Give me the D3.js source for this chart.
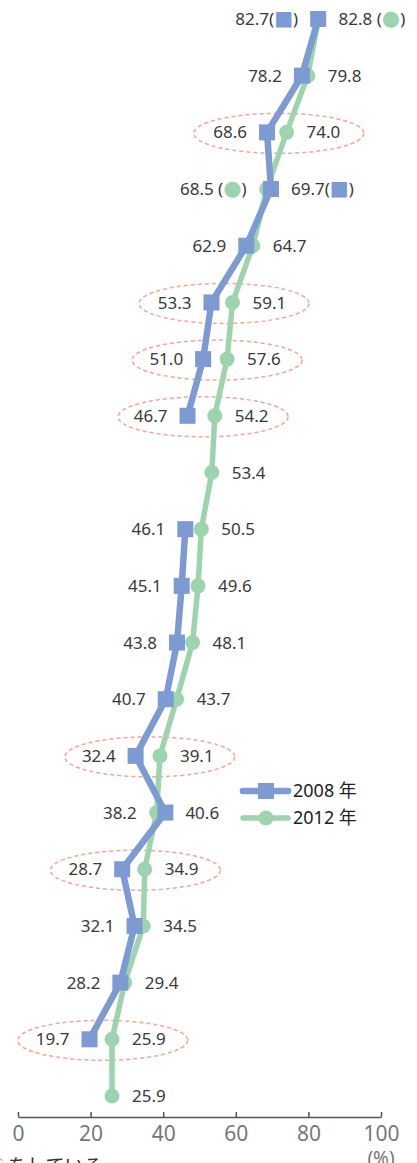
<!DOCTYPE html>
<html>
<head>
<meta charset="utf-8">
<script src="https://cdn.jsdelivr.net/npm/d3@7"></script>
<style>
  html, body { margin: 0; padding: 0; background: #fff; overflow: hidden; }
  svg { display: block; font-family: "Noto Sans", "Noto Sans CJK JP", sans-serif; }
</style>
</head>
<body>
<svg id="chart" width="417" height="1163"></svg>
<script>
// Values per row, top to bottom (null = no survey value)
const values2008 = [82.7, 78.2, 68.6, 69.7, 62.9, 53.3, 51.0, 46.7, null, 46.1, 45.1, 43.8, 40.7, 32.4, 40.6, 28.7, 32.1, 28.2, 19.7, null];
const values2012 = [82.8, 79.8, 74.0, 68.5, 64.7, 59.1, 57.6, 54.2, 53.4, 50.5, 49.6, 48.1, 43.7, 39.1, 38.2, 34.9, 34.5, 29.4, 25.9, 25.9];
// Rows circled with a dashed ellipse
const highlightedRows = [2, 5, 6, 7, 13, 15, 18];
// Rows whose labels carry a series symbol
const symbolRows = [0, 3];
const seriesNames = ["2008 年", "2012 年"];
const xTicks = [0, 20, 40, 60, 80, 100];
const noteText = "をしている";

const blue = "#7d9ad2";
const green = "#9cd4ad";
const ellipseColor = "#f4a596";

const svg = d3.select("#chart");
const rowIdx = d3.range(values2012.length);

const x = d3.scaleLinear().domain([0, 100]).range([18, 381]);
const y = d3.scalePoint().domain(rowIdx).range([19, 1096]);

// Dashed ellipses behind highlighted rows
svg.append("g").selectAll("ellipse")
  .data(highlightedRows)
  .join("ellipse")
  .attr("cx", i => (x(values2008[i]) + x(values2012[i])) / 2 + 2)
  .attr("cy", i => y(i) + 1)
  .attr("rx", 85)
  .attr("ry", 20)
  .attr("fill", "none")
  .attr("stroke", ellipseColor)
  .attr("stroke-width", 1.5)
  .attr("stroke-dasharray", "4,3");

// Lines
const line = d3.line()
  .defined(d => d.v != null)
  .x(d => x(d.v))
  .y(d => y(d.i));

const pts2008 = values2008.map((v, i) => ({ v, i }));
const pts2012 = values2012.map((v, i) => ({ v, i }));

svg.append("path")
  .datum(pts2012)
  .attr("d", line)
  .attr("fill", "none")
  .attr("stroke", green)
  .attr("stroke-width", 5.5)
  .attr("stroke-linejoin", "round");

svg.append("g").selectAll("circle")
  .data(pts2012.filter(d => d.v != null))
  .join("circle")
  .attr("cx", d => x(d.v))
  .attr("cy", d => y(d.i))
  .attr("r", 7.5)
  .attr("fill", green);

svg.append("path")
  .datum(pts2008)
  .attr("d", line)
  .attr("fill", "none")
  .attr("stroke", blue)
  .attr("stroke-width", 6.5)
  .attr("stroke-linejoin", "round");

svg.append("g").selectAll("rect")
  .data(pts2008.filter(d => d.v != null))
  .join("rect")
  .attr("x", d => x(d.v) - 8)
  .attr("y", d => y(d.i) - 8)
  .attr("width", 16)
  .attr("height", 16)
  .attr("fill", blue);

// Value labels: smaller value to the left, larger value to the right
const labelG = svg.append("g")
  .attr("font-size", 17)
  .attr("fill", "#3a3a3a");

function addLabel(i, v, series, side, px) {
  const t = labelG.append("text")
    .attr("x", side === "left" ? px - 20 : px + 20)
    .attr("y", y(i))
    .attr("dy", "0.36em")
    .attr("text-anchor", side === "left" ? "end" : "start");
  const s = v.toFixed(1);
  if (symbolRows.includes(i)) {
    if (series === 0) {
      t.append("tspan").text(s + "(");
      t.append("tspan").attr("fill", blue).attr("font-family", "DejaVu Sans").attr("font-size", 20).text("■");
      t.append("tspan").text(")");
    } else {
      t.append("tspan").text(s + " (");
      t.append("tspan").attr("fill", green).attr("font-family", "DejaVu Sans").attr("font-size", 21).text("●");
      t.append("tspan").text(")");
    }
  } else {
    t.text(s);
  }
}

rowIdx.forEach(i => {
  const a = values2008[i], b = values2012[i];
  if (a == null) {
    addLabel(i, b, 1, "right", x(b));
    return;
  }
  if (a <= b) {
    addLabel(i, a, 0, "left", x(a));
    addLabel(i, b, 1, "right", x(b));
  } else {
    addLabel(i, b, 1, "left", x(b));
    addLabel(i, a, 0, "right", x(a));
  }
});

// Legend
const legend = svg.append("g");
const legendY = [791, 818];
[blue, green].forEach((c, k) => {
  const g = legend.append("g");
  g.append("line")
    .attr("x1", 243).attr("x2", 288)
    .attr("y1", legendY[k]).attr("y2", legendY[k])
    .attr("stroke", c)
    .attr("stroke-width", k === 0 ? 6.5 : 5.5)
    .attr("stroke-linecap", "round");
  if (k === 0) {
    g.append("rect").attr("x", 258).attr("y", legendY[k] - 8).attr("width", 16).attr("height", 16).attr("fill", c);
  } else {
    g.append("circle").attr("cx", 266).attr("cy", legendY[k]).attr("r", 7.5).attr("fill", c);
  }
  g.append("text")
    .attr("x", 293)
    .attr("y", legendY[k])
    .attr("dy", "0.36em")
    .attr("font-size", 18)
    .attr("fill", "#222")
    .text(seriesNames[k]);
});

// X axis
const axisG = svg.append("g").attr("transform", "translate(0,1117)");
axisG.call(d3.axisBottom(x).tickValues(xTicks).tickSizeInner(-5).tickSizeOuter(0).tickPadding(9));
axisG.select(".domain").attr("stroke", "#555").attr("stroke-width", 1.5);
axisG.selectAll(".tick line").attr("stroke", "#555").attr("stroke-width", 1.5);
axisG.selectAll(".tick text")
  .attr("font-size", 21)
  .attr("fill", "#777")
  .attr("font-family", "\"Noto Sans\", sans-serif");

svg.append("text")
  .attr("x", 381)
  .attr("y", 1165)
  .attr("text-anchor", "middle")
  .attr("font-size", 19)
  .attr("fill", "#777")
  .text("(%)");

// Footnote (partially below the visible area)
svg.append("ellipse")
  .attr("cx", -10).attr("cy", 1165)
  .attr("rx", 14).attr("ry", 9)
  .attr("fill", "none")
  .attr("stroke", ellipseColor)
  .attr("stroke-width", 1.5)
  .attr("stroke-dasharray", "3,2");
svg.append("text")
  .attr("x", 8)
  .attr("y", 1173)
  .attr("font-size", 19)
  .attr("fill", "#333")
  .attr("font-family", "\"Noto Sans CJK JP\", sans-serif")
  .text(noteText);
</script>
</body>
</html>
